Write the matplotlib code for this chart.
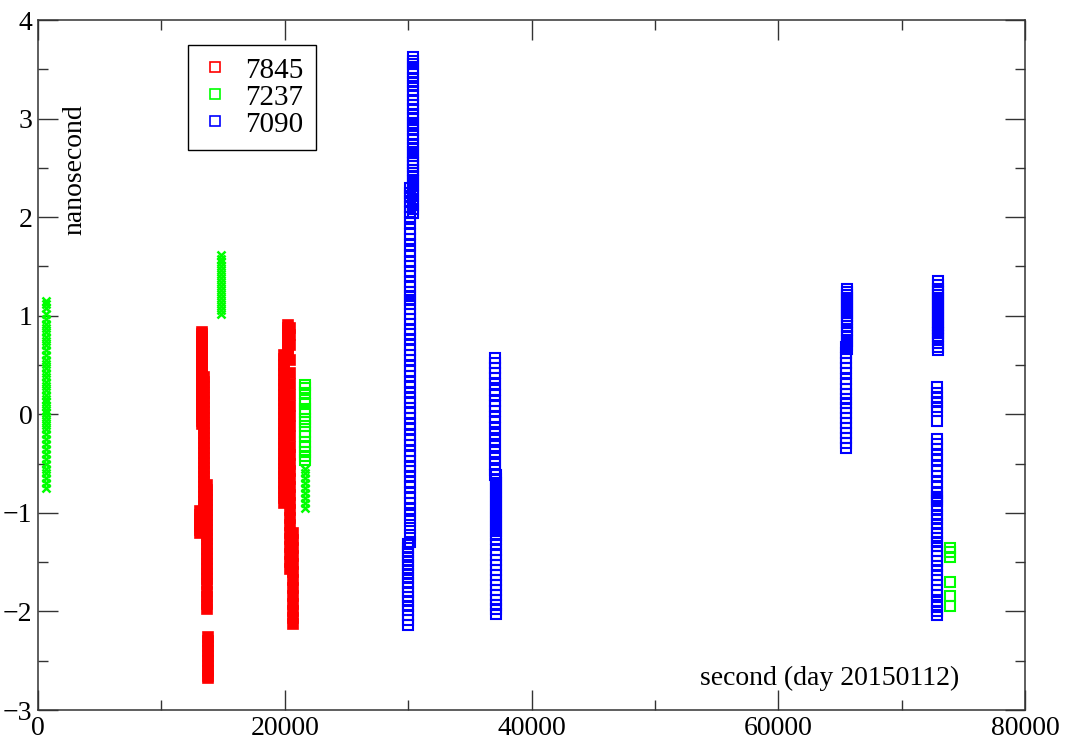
import numpy as np
import matplotlib
matplotlib.use("Agg")
import matplotlib.pyplot as plt
from matplotlib.lines import Line2D

plt.rcParams['font.family'] = ['Liberation Serif', 'DejaVu Serif']

# ---- data: columns of points (x in seconds, y in nanoseconds) ----
# station 7845 (red)
red_a = [-0.98, -1.02, -1.06, -1.10, -1.13, -1.17, -1.20]
red_b = [0.84, 0.81, 0.78, 0.75, 0.72, 0.68, 0.64, 0.61, 0.57, 0.53, 0.50, 0.46,
         0.42, 0.39, 0.35, 0.31, 0.27, 0.24, 0.20, 0.16, 0.12, 0.09, 0.05, 0.01,
         -0.03, -0.07, -0.10]
red_c = [0.38, 0.33, 0.28, 0.22, 0.17, 0.12, 0.06, 0.02, -0.04, -0.09, -0.14,
         -0.19, -0.24, -0.29, -0.34, -0.39, -0.44, -0.49, -0.54, -0.59, -0.64,
         -0.69, -0.74, -0.79, -0.84, -0.89, -0.94, -0.98]
red_d = [-0.72, -0.77, -0.82, -0.87, -0.92, -0.97, -1.02, -1.07, -1.12, -1.17,
         -1.22, -1.27, -1.32, -1.37, -1.42, -1.47, -1.52, -1.57, -1.62, -1.67,
         -1.72, -1.80, -1.85, -1.92, -1.98]
red_e = [-2.26, -2.30, -2.35, -2.40, -2.45, -2.50, -2.55, -2.60, -2.65, -2.68]
red_f = [0.91, 0.88, 0.85, 0.81, 0.77, 0.73, 0.69, 0.65, 0.61]
red_g = [0.60, 0.56, 0.50, 0.45, 0.41, 0.35, 0.30, 0.26, 0.20, 0.15, 0.11, 0.05,
         0.00, -0.04, -0.10, -0.15, -0.19, -0.25, -0.30, -0.34, -0.40, -0.45,
         -0.49, -0.55, -0.60, -0.64, -0.70, -0.75, -0.79, -0.85, -0.90]
red_h = [0.88, 0.80, 0.70, 0.55, 0.42, 0.31, 0.20, 0.08, -0.02, -0.12, -0.22,
         -0.33, -0.41, -0.50, -0.58, -0.66, -0.74, -0.82, -0.90, -0.97, -1.05,
         -1.12, -1.20, -1.27, -1.35, -1.42, -1.50, -1.57]
red_i = [-1.20, -1.28, -1.36, -1.44, -1.52, -1.60, -1.68, -1.76, -1.84, -1.92,
         -2.00, -2.07, -2.13]
red_x = [13150, 13330, 13450, 13700, 13800, 20300, 19950, 20450, 20650]

# station 7237 (green); some samples drawn as crosses
green_cross_a = [1.15, 1.12, 1.08, 1.02, 0.97, 0.92, 0.88, 0.83, 0.78, 0.74, 0.70,
                 0.65, 0.60, 0.55, 0.51, 0.47, 0.42, 0.38, 0.33, 0.29, 0.25, 0.20,
                 0.16, 0.12, 0.08, 0.04, 0.01, -0.03, -0.07, -0.11, -0.15, -0.20,
                 -0.25, -0.30, -0.35, -0.40, -0.45, -0.50, -0.55, -0.60, -0.65,
                 -0.70, -0.75]
green_cross_b = [1.62, 1.58, 1.55, 1.50, 1.46, 1.42, 1.38, 1.34, 1.30, 1.26, 1.22,
                 1.18, 1.14, 1.10, 1.06, 1.02]
green_cross_c = [-0.55, -0.60, -0.65, -0.70, -0.75, -0.80, -0.85, -0.90, -0.95]
green_cross_x = [650, 14800, 21650]
green_sq_a = [0.30, 0.27, 0.22, 0.15, 0.10, 0.05, 0.02, -0.05, -0.08, -0.12, -0.18,
              -0.22, -0.28, -0.33, -0.38, -0.42, -0.46]
green_sq_b = [-1.36, -1.40, -1.45, -1.70, -1.84, -1.94]
green_sq_x = [21650, 73900]

# station 7090 (blue)
blue_a = [3.62, 3.58, 3.55, 3.50, 3.46, 3.41, 3.37, 3.33, 3.28, 3.24, 3.19, 3.14,
          3.10, 3.05, 3.01, 2.96, 2.92, 2.88, 2.83, 2.79, 2.74, 2.70, 2.66, 2.62,
          2.58, 2.55, 2.52, 2.48, 2.45, 2.41, 2.37, 2.33, 2.29, 2.25, 2.21, 2.16,
          2.12, 2.08, 2.04]
blue_b = [2.30, 2.25, 2.21, 2.16, 2.10, 2.05, 2.00, 1.94, 1.88, 1.83, 1.78, 1.72,
          1.66, 1.61, 1.55, 1.50, 1.45, 1.40, 1.34, 1.29, 1.24, 1.20, 1.16, 1.12,
          1.07, 1.02, 0.97, 0.92, 0.86, 0.81, 0.76, 0.70, 0.65, 0.60, 0.55, 0.49,
          0.44, 0.39, 0.33, 0.28, 0.22, 0.17, 0.12, 0.06, 0.01, -0.04, -0.10,
          -0.15, -0.21, -0.26, -0.31, -0.37, -0.42, -0.47, -0.53, -0.58, -0.63,
          -0.69, -0.74, -0.80, -0.85, -0.90, -0.96, -1.02, -1.08, -1.15, -1.22,
          -1.30]
blue_c = [-1.32, -1.36, -1.40, -1.45, -1.49, -1.53, -1.58, -1.62, -1.66, -1.71,
          -1.75, -1.80, -1.85, -1.89, -1.94, -1.99, -2.04, -2.09, -2.14]
blue_d = [0.57, 0.52, 0.47, 0.42, 0.37, 0.31, 0.25, 0.20, 0.14, 0.08, 0.03, -0.03,
          -0.08, -0.14, -0.20, -0.26, -0.32, -0.38, -0.44, -0.50, -0.56, -0.62]
blue_e = [-0.62, -0.66, -0.70, -0.74, -0.78, -0.82, -0.86, -0.90, -0.94, -0.98,
          -1.02, -1.06, -1.10, -1.14, -1.18]
blue_f = [-1.22, -1.27, -1.32, -1.38, -1.43, -1.48, -1.53, -1.58, -1.63, -1.68,
          -1.73, -1.78, -1.83, -1.88, -1.93, -1.98, -2.03]
blue_g = [1.27, 1.24, 1.21, 1.18, 1.15, 1.12, 1.09, 1.06, 1.03, 1.00, 0.97, 0.94,
          0.90, 0.86, 0.82, 0.78, 0.74, 0.70, 0.66]
blue_h = [0.68, 0.62, 0.57, 0.52, 0.47, 0.42, 0.36, 0.31, 0.26, 0.21, 0.16, 0.11,
          0.06, 0.01, -0.04, -0.09, -0.14, -0.19, -0.24, -0.29, -0.34]
blue_i = [1.35, 1.31, 1.27, 1.24, 1.21, 1.18, 1.15, 1.12, 1.09, 1.06, 1.03, 1.00,
          0.97, 0.94, 0.91, 0.88, 0.85, 0.82, 0.79, 0.76, 0.72, 0.68, 0.65]
blue_j = [0.28, 0.22, 0.17, 0.12, 0.07, 0.03, -0.07]
blue_k = [-0.25, -0.30, -0.35, -0.41, -0.46, -0.52, -0.58, -0.63, -0.69, -0.74,
          -0.80, -0.86]
blue_l = [-0.84, -0.88, -0.93, -0.97, -1.02, -1.06, -1.11, -1.15, -1.20, -1.25,
          -1.30, -1.34, -1.39, -1.44, -1.49, -1.54, -1.58, -1.63, -1.68, -1.73,
          -1.78, -1.83]
blue_m = [-1.90, -1.95, -2.00, -2.04]
blue_x = [30400, 30180, 30000, 37000, 37150, 37100, 65600, 65500, 72950, 72900,
          72900, 72850, 72850]

labels = ['7845', '7237', '7090']


def columns(xs, ys):
    px, py = [], []
    for x, col in zip(xs, ys):
        px += [x] * len(col)
        py += col
    return np.array(px), np.array(py)


rx, ry = columns(red_x, [red_a, red_b, red_c, red_d, red_e, red_f, red_g, red_h, red_i])
gcx, gcy = columns(green_cross_x, [green_cross_a, green_cross_b, green_cross_c])
gsx, gsy = columns(green_sq_x, [green_sq_a, green_sq_b])
bx, by = columns(blue_x, [blue_a, blue_b, blue_c, blue_d, blue_e, blue_f, blue_g,
                          blue_h, blue_i, blue_j, blue_k, blue_l, blue_m])

fig = plt.figure(figsize=(10.74, 7.47), dpi=100)
ax = fig.add_axes([0.0354, 0.0495, 0.9190, 0.9237])

sq = dict(marker='s', ms=7, mfc='none', mew=1.5, ls='none')
# red samples are so dense they merge into solid bars
ax.plot(rx, ry, marker='s', ms=6.6, mew=1.2, ls='none', color='#ff0000')
ax.plot(gcx, gcy, marker='x', ms=6, mew=1.8, ls='none', color='#00ff00')
ax.plot(gsx, gsy, mec='#00ff00', **sq)
ax.plot(bx, by, mec='#0000ff', **sq)

ax.set_xlim(0, 80000)
ax.set_ylim(-3, 4)
ax.set_xticks(np.arange(0, 80001, 20000))
ax.set_xticks(np.arange(0, 80001, 10000), minor=True)
ax.set_yticks(np.arange(-3, 5, 1))
ax.set_yticks(np.arange(-3, 4.01, 0.5), minor=True)
ax.tick_params(which='both', direction='in', top=True, right=True,
               labelsize=20, width=1.0, pad=4, color='#333333')
ax.tick_params(which='major', length=14.4)
ax.tick_params(which='minor', length=7.2)
for s in ax.spines.values():
    s.set_linewidth(1.1)
    s.set_color('#333333')

ax.text(0.0375, 0.783, 'nanosecond', rotation=90, transform=ax.transAxes,
        ha='center', va='center', fontsize=20)
ax.text(0.802, 0.046, 'second (day 20150112)', transform=ax.transAxes,
        ha='center', va='center', fontsize=20)

handles = [Line2D([], [], mec=c, marker='s', ms=6.5, mfc='none', mew=1.2, ls='none')
           for c in ['#ff0000', '#00ff00', '#0000ff']]
leg = ax.legend(handles, labels, loc='upper left', bbox_to_anchor=(0.152, 0.964),
                borderaxespad=0, fontsize=21, fancybox=False, framealpha=1,
                edgecolor='black', handlelength=1.0, handletextpad=0.55,
                labelspacing=0.02, borderpad=0.42, markerscale=1.0)
leg.get_frame().set_linewidth(1.0)

fig.savefig('out.png', dpi=100)
